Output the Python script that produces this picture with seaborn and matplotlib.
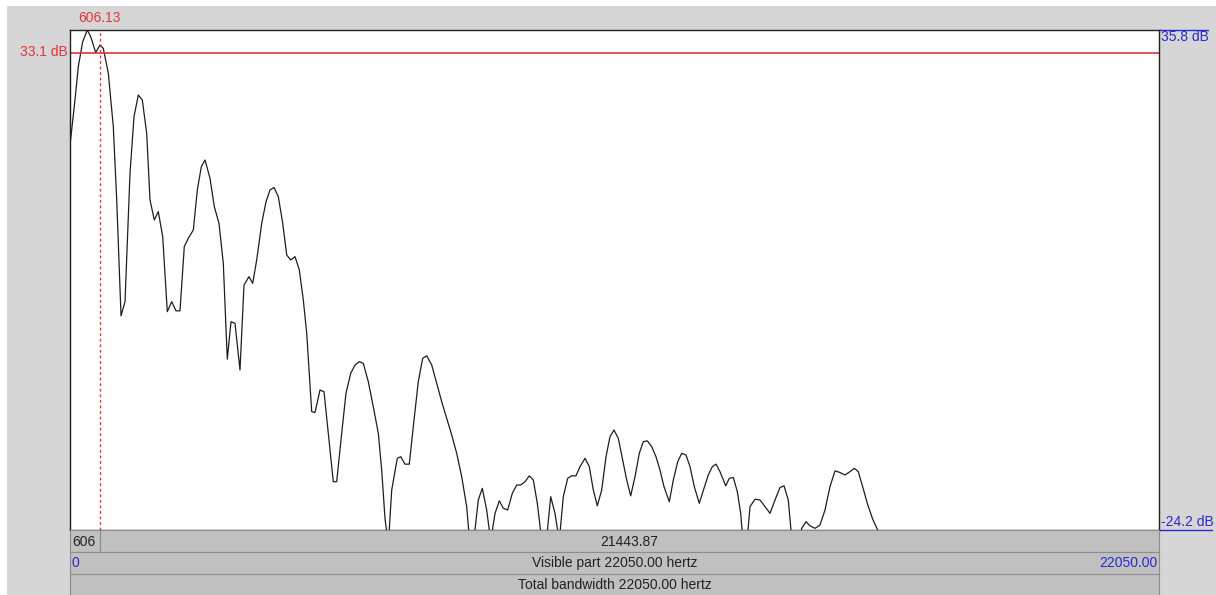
import matplotlib
matplotlib.use("Agg")
import matplotlib.pyplot as plt
from matplotlib.patches import Rectangle
from matplotlib.lines import Line2D
import seaborn as sns
import pandas as pd

# spectrum (Hz, dB); values under the bottom edge get clipped
freq_hz = [0, 101, 168, 257, 350, 419, 520, 607, 674, 776,
           877, 946, 1033, 1114, 1215, 1296, 1383, 1464, 1553, 1620,
           1707, 1788, 1877, 1970, 2059, 2146, 2227, 2314, 2395, 2497,
           2578, 2659, 2734, 2835, 2922, 3017, 3104, 3185, 3260, 3341,
           3442, 3523, 3624, 3699, 3780, 3882, 3969, 4050, 4131, 4218,
           4307, 4388, 4469, 4556, 4643, 4724, 4793, 4894, 4961, 5062,
           5143, 5230, 5331, 5400, 5501, 5588, 5684, 5771, 5858, 5939,
           6040, 6141, 6243, 6311, 6378, 6445, 6514, 6627, 6696, 6783,
           6870, 6951, 7052, 7141, 7223, 7324, 7425, 7526, 7627, 7729,
           7830, 7931, 8032, 8099, 8166, 8267, 8348, 8437, 8518, 8606,
           8693, 8774, 8862, 8956, 9045, 9126, 9213, 9300, 9381, 9462,
           9563, 9638, 9733, 9820, 9907, 9988, 10077, 10158, 10245, 10326,
           10428, 10515, 10596, 10677, 10766, 10853, 10934, 11015, 11102, 11191,
           11272, 11353, 11440, 11527, 11608, 11689, 11778, 11865, 11946, 12027,
           12135, 12216, 12305, 12386, 12473, 12554, 12641, 12742, 12837, 12924,
           13005, 13080, 13161, 13277, 13350, 13431, 13512, 13580, 13633, 13702,
           13769, 13870, 13971, 14073, 14174, 14275, 14376, 14457, 14544, 14625,
           14747, 14815, 14903, 14984, 15085, 15186, 15287, 15388, 15490, 15591,
           15692, 15793, 15880, 15961, 16050, 16143, 16253, 16354, 16400]
level_db = [22.0, 27.4, 31.4, 34.4, 35.8, 35.0, 33.1, 34.0, 33.6, 30.6,
            24.2, 15.4, 1.5, 3.2, 18.6, 25.4, 28.0, 27.4, 23.4, 15.4,
            13.0, 14.0, 11.0, 2.0, 3.2, 2.1, 2.1, 9.8, 10.8, 11.8,
            16.6, 19.4, 20.2, 18.0, 14.6, 12.6, 7.8, -3.7, 0.8, 0.6,
            -5.0, 5.2, 6.2, 5.4, 8.2, 12.6, 15.2, 16.6, 16.9, 15.8,
            12.6, 8.8, 8.2, 8.6, 7.0, 3.4, -0.6, -10.0, -10.1, -7.4,
            -7.6, -12.6, -18.4, -18.4, -12.6, -7.8, -5.4, -4.4, -4.0, -4.2,
            -6.4, -9.4, -12.6, -17.0, -22.8, -26.0, -19.4, -15.6, -15.4, -16.3,
            -16.3, -11.8, -6.4, -3.6, -3.3, -4.4, -6.6, -8.8, -10.8, -12.8,
            -15.0, -17.8, -21.4, -26.0, -26.0, -20.6, -19.2, -21.8, -25.5, -22.2,
            -20.7, -21.6, -21.8, -19.8, -18.8, -18.8, -18.4, -17.7, -18.2, -21.0,
            -26.0, -26.0, -20.2, -22.2, -25.5, -20.2, -18.0, -17.7, -17.7, -16.6,
            -15.6, -16.6, -19.4, -21.3, -19.4, -15.4, -13.0, -12.2, -13.2, -15.8,
            -18.2, -20.1, -17.8, -15.0, -13.6, -13.5, -14.2, -15.4, -17.0, -19.0,
            -20.8, -18.2, -16.0, -15.0, -15.2, -16.6, -19.0, -21.0, -19.2, -17.6,
            -16.6, -16.3, -17.2, -18.9, -18.0, -17.9, -19.6, -22.2, -26.0, -26.0,
            -21.4, -20.5, -20.6, -21.4, -22.2, -20.6, -19.1, -18.9, -20.6, -26.0,
            -26.0, -24.0, -23.2, -23.7, -24.0, -23.6, -21.8, -19.0, -17.1, -17.3,
            -17.6, -17.2, -16.8, -17.2, -19.0, -21.0, -22.9, -24.2, -26.0]

cursor_hz = 606.13
cursor_db = 33.1
top_db = 35.8
bottom_db = -24.2
f_max = 22050.00

W, H = 1216, 595
RED = "#e0353a"
BLUE = "#2a2ad0"
BAR = "#c0c0c0"
BG = "#d6d6d6"
EDGE = "#8c8c8c"


def fx(px):
    return px / W


def fy(py):
    return 1 - py / H


sns.set_theme(style="white")
plt.rcParams["font.family"] = ["Liberation Sans", "DejaVu Sans"]
plt.rcParams["font.size"] = 10

fig = plt.figure(figsize=(W / 100, H / 100), dpi=100)
fig.patch.set_facecolor("white")
fig.add_artist(Rectangle((fx(7), 0), 1 - fx(7), fy(6), transform=fig.transFigure,
                         facecolor=BG, edgecolor="none", zorder=0))

ax = fig.add_axes([fx(70), fy(530), fx(1159) - fx(70), fy(30) - fy(530)])
ax.set_facecolor("white")

df = pd.DataFrame({"freq": freq_hz, "db": level_db})
sns.lineplot(data=df, x="freq", y="db", ax=ax, sort=False, estimator=None,
             color="#1e1e1e", linewidth=0.9)
ax.set_xlim(0, f_max)
ax.set_ylim(bottom_db, top_db)
ax.set_xticks([])
ax.set_yticks([])
ax.set_xlabel("")
ax.set_ylabel("")
for s in ax.spines.values():
    s.set_color("#202020")
    s.set_linewidth(1)

# cursor
ax.axhline(cursor_db, color=RED, lw=1.2)
ax.axvline(cursor_hz, color=RED, lw=1, ls=(0, (2, 2)))
ax.text(cursor_hz, 1.024, f"{cursor_hz:.2f}", color=RED, ha="center", va="center",
        transform=ax.get_xaxis_transform(), fontsize=10)
ax.text(-0.002, cursor_db, f"{cursor_db:.1f} dB", color=RED, ha="right", va="center",
        transform=ax.get_yaxis_transform(), fontsize=10)

# right-hand range labels
ax.text(1.002, 1 - 7 / 500, f"{top_db:.1f} dB", color=BLUE, ha="left", va="center",
        transform=ax.transAxes, fontsize=10)
ax.add_line(Line2D([1.0, 1 + 49 / 1089], [1.0, 1.0], transform=ax.transAxes,
                   color=BLUE, lw=1, clip_on=False))
ax.text(1.002, 8 / 500, f"{bottom_db:.1f} dB", color=BLUE, ha="left", va="center",
        transform=ax.transAxes, fontsize=10)
ax.add_line(Line2D([1.0, 1 + 53 / 1089], [0.0, 0.0], transform=ax.transAxes,
                   color=BLUE, lw=1, clip_on=False))

# Praat-style bars under the plot
cursor_px = 70 + cursor_hz / f_max * 1089
bars = [(70, 530, cursor_px, 552), (cursor_px, 530, 1159, 552),
        (70, 552, 1159, 574), (70, 574, 1159, 596)]
for x0, y0, x1, y1 in bars:
    fig.add_artist(Rectangle((fx(x0), fy(y1)), fx(x1) - fx(x0), fy(y0) - fy(y1),
                             transform=fig.transFigure, facecolor=BAR,
                             edgecolor=EDGE, lw=0.8, zorder=1))

fig.text(fx(72), fy(542), f"{cursor_hz:.0f}", color="#222222", ha="left", va="center")
fig.text(fx((cursor_px + 1159) / 2), fy(542), f"{f_max - cursor_hz:.2f}",
         color="#222222", ha="center", va="center")
fig.text(fx(72), fy(563), "0", color=BLUE, ha="left", va="center")
fig.text(fx(614.5), fy(563), f"Visible part {f_max:.2f} hertz", color="#222222",
         ha="center", va="center")
fig.text(fx(1158), fy(563), f"{f_max:.2f}", color=BLUE, ha="right", va="center")
fig.text(fx(614.5), fy(585), f"Total bandwidth {f_max:.2f} hertz", color="#222222",
         ha="center", va="center")

fig.savefig("out.png", dpi=100)
